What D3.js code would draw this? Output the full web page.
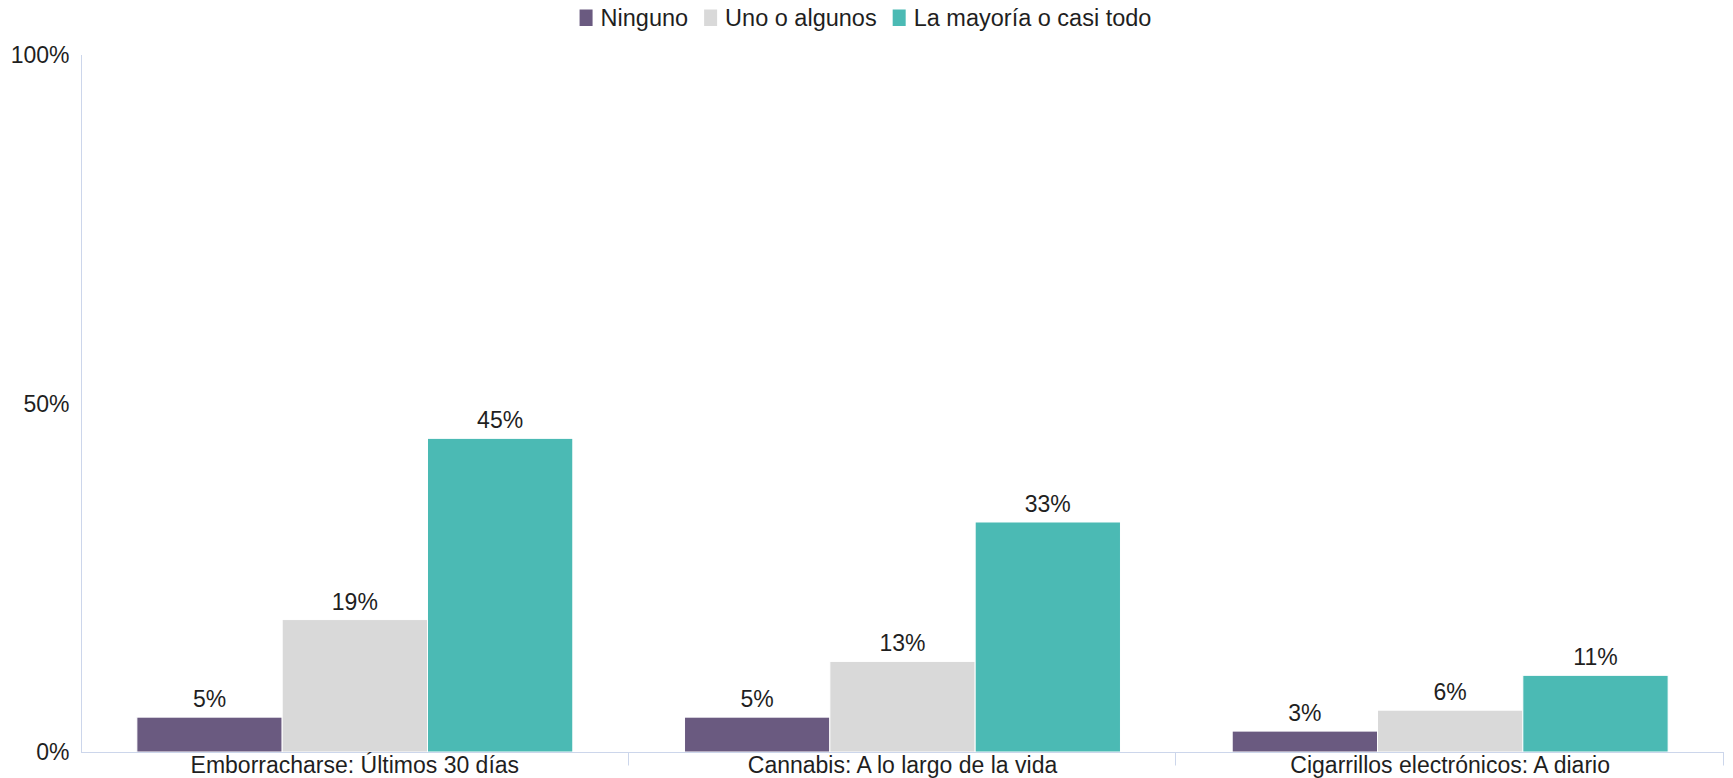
<!DOCTYPE html>
<html>
<head>
<meta charset="utf-8">
<script src="https://cdn.jsdelivr.net/npm/d3@7"></script>
<style>
  html, body { margin: 0; padding: 0; background: #ffffff; }
  svg { display: block; }
  text { font-family: "Liberation Sans", Arial, sans-serif; fill: #1f1f1f; }
</style>
</head>
<body>
<svg id="chart" width="1733" height="778"></svg>
<script>
const categories = ["Emborracharse: Últimos 30 días", "Cannabis: A lo largo de la vida", "Cigarrillos electrónicos: A diario"];
const seriesNames = ["Ninguno", "Uno o algunos", "La mayoría o casi todo"];
const ninguno = [5, 5, 3];
const unoOAlgunos = [19, 13, 6];
const mayoria = [45, 33, 11];
const yTicks = [0, 50, 100];
const colors = ["#6a5a80", "#d9d9d9", "#4bbab4"];

const seriesValues = [ninguno, unoOAlgunos, mayoria];

const W = 1733, H = 778;
const margin = { left: 81, right: 9, top: 55, bottom: 26 };
const svg = d3.select("#chart");

const x0 = d3.scaleBand().domain(categories).range([margin.left, W - margin.right]).padding(0);
const bw = x0.bandwidth();
const pad = bw * 0.102;
const x1 = d3.scaleBand().domain(seriesNames).range([pad, bw - pad]).padding(0);
const y = d3.scaleLinear().domain([0, 100]).range([H - margin.bottom, margin.top]);

const axisColor = "#ccd6eb";

// Y axis line
svg.append("line")
  .attr("x1", margin.left + 0.5).attr("x2", margin.left + 0.5)
  .attr("y1", y(100)).attr("y2", y(0))
  .attr("stroke", axisColor).attr("stroke-width", 1);

// Y tick labels
svg.append("g").selectAll("text").data(yTicks).join("text")
  .attr("x", 69.5)
  .attr("y", d => y(d) + 8)
  .attr("text-anchor", "end")
  .style("font-size", "23px")
  .text(d => d + "%");

// bars
const groups = svg.append("g").selectAll("g").data(categories).join("g")
  .attr("transform", d => `translate(${x0(d)},0)`);

groups.each(function(cat, ci) {
  const g = d3.select(this);
  const data = seriesNames.map((s, si) => ({ s, si, v: seriesValues[si][ci] }));
  g.selectAll("rect").data(data).join("rect")
    .attr("x", d => x1(d.s))
    .attr("y", d => y(d.v))
    .attr("width", x1.bandwidth())
    .attr("height", d => y(0) - y(d.v))
    .attr("fill", d => colors[d.si])
    .attr("stroke", "#ffffff")
    .attr("stroke-width", 1);
  g.selectAll("text").data(data).join("text")
    .attr("x", d => x1(d.s) + x1.bandwidth() / 2)
    .attr("y", d => y(d.v) - 10)
    .attr("text-anchor", "middle")
    .style("font-size", "23px")
    .text(d => d.v + "%");
});

// X axis
const xAxisY = y(0) + 0.5;
svg.append("line")
  .attr("x1", margin.left).attr("x2", W - margin.right)
  .attr("y1", xAxisY).attr("y2", xAxisY)
  .attr("stroke", axisColor).attr("stroke-width", 1);

const tickPositions = categories.map(c => x0(c) + bw);
svg.append("g").selectAll("line").data(tickPositions).join("line")
  .attr("x1", d => Math.round(d) - 0.5).attr("x2", d => Math.round(d) - 0.5)
  .attr("y1", xAxisY).attr("y2", xAxisY + 13)
  .attr("stroke", axisColor).attr("stroke-width", 1);

svg.append("g").selectAll("text").data(categories).join("text")
  .attr("x", d => x0(d) + bw / 2)
  .attr("y", 773)
  .attr("text-anchor", "middle")
  .style("font-size", "23px")
  .text(d => d);

// Legend
const legend = svg.append("g");
let cx = 0;
const items = seriesNames.map((s, i) => {
  const g = legend.append("g");
  g.append("rect").attr("x", 0).attr("y", 9.5).attr("width", 13).attr("height", 16.5).attr("fill", colors[i]);
  const t = g.append("text").attr("x", 21).attr("y", 25.5).style("font-size", "23.5px").text(s);
  const w = 21 + t.node().getComputedTextLength();
  g.attr("transform", `translate(${cx},0)`);
  cx += w + 16;
  return w;
});
const totalW = cx - 16;
legend.attr("transform", `translate(${865.5 - totalW / 2},0)`);
</script>
</body>
</html>
